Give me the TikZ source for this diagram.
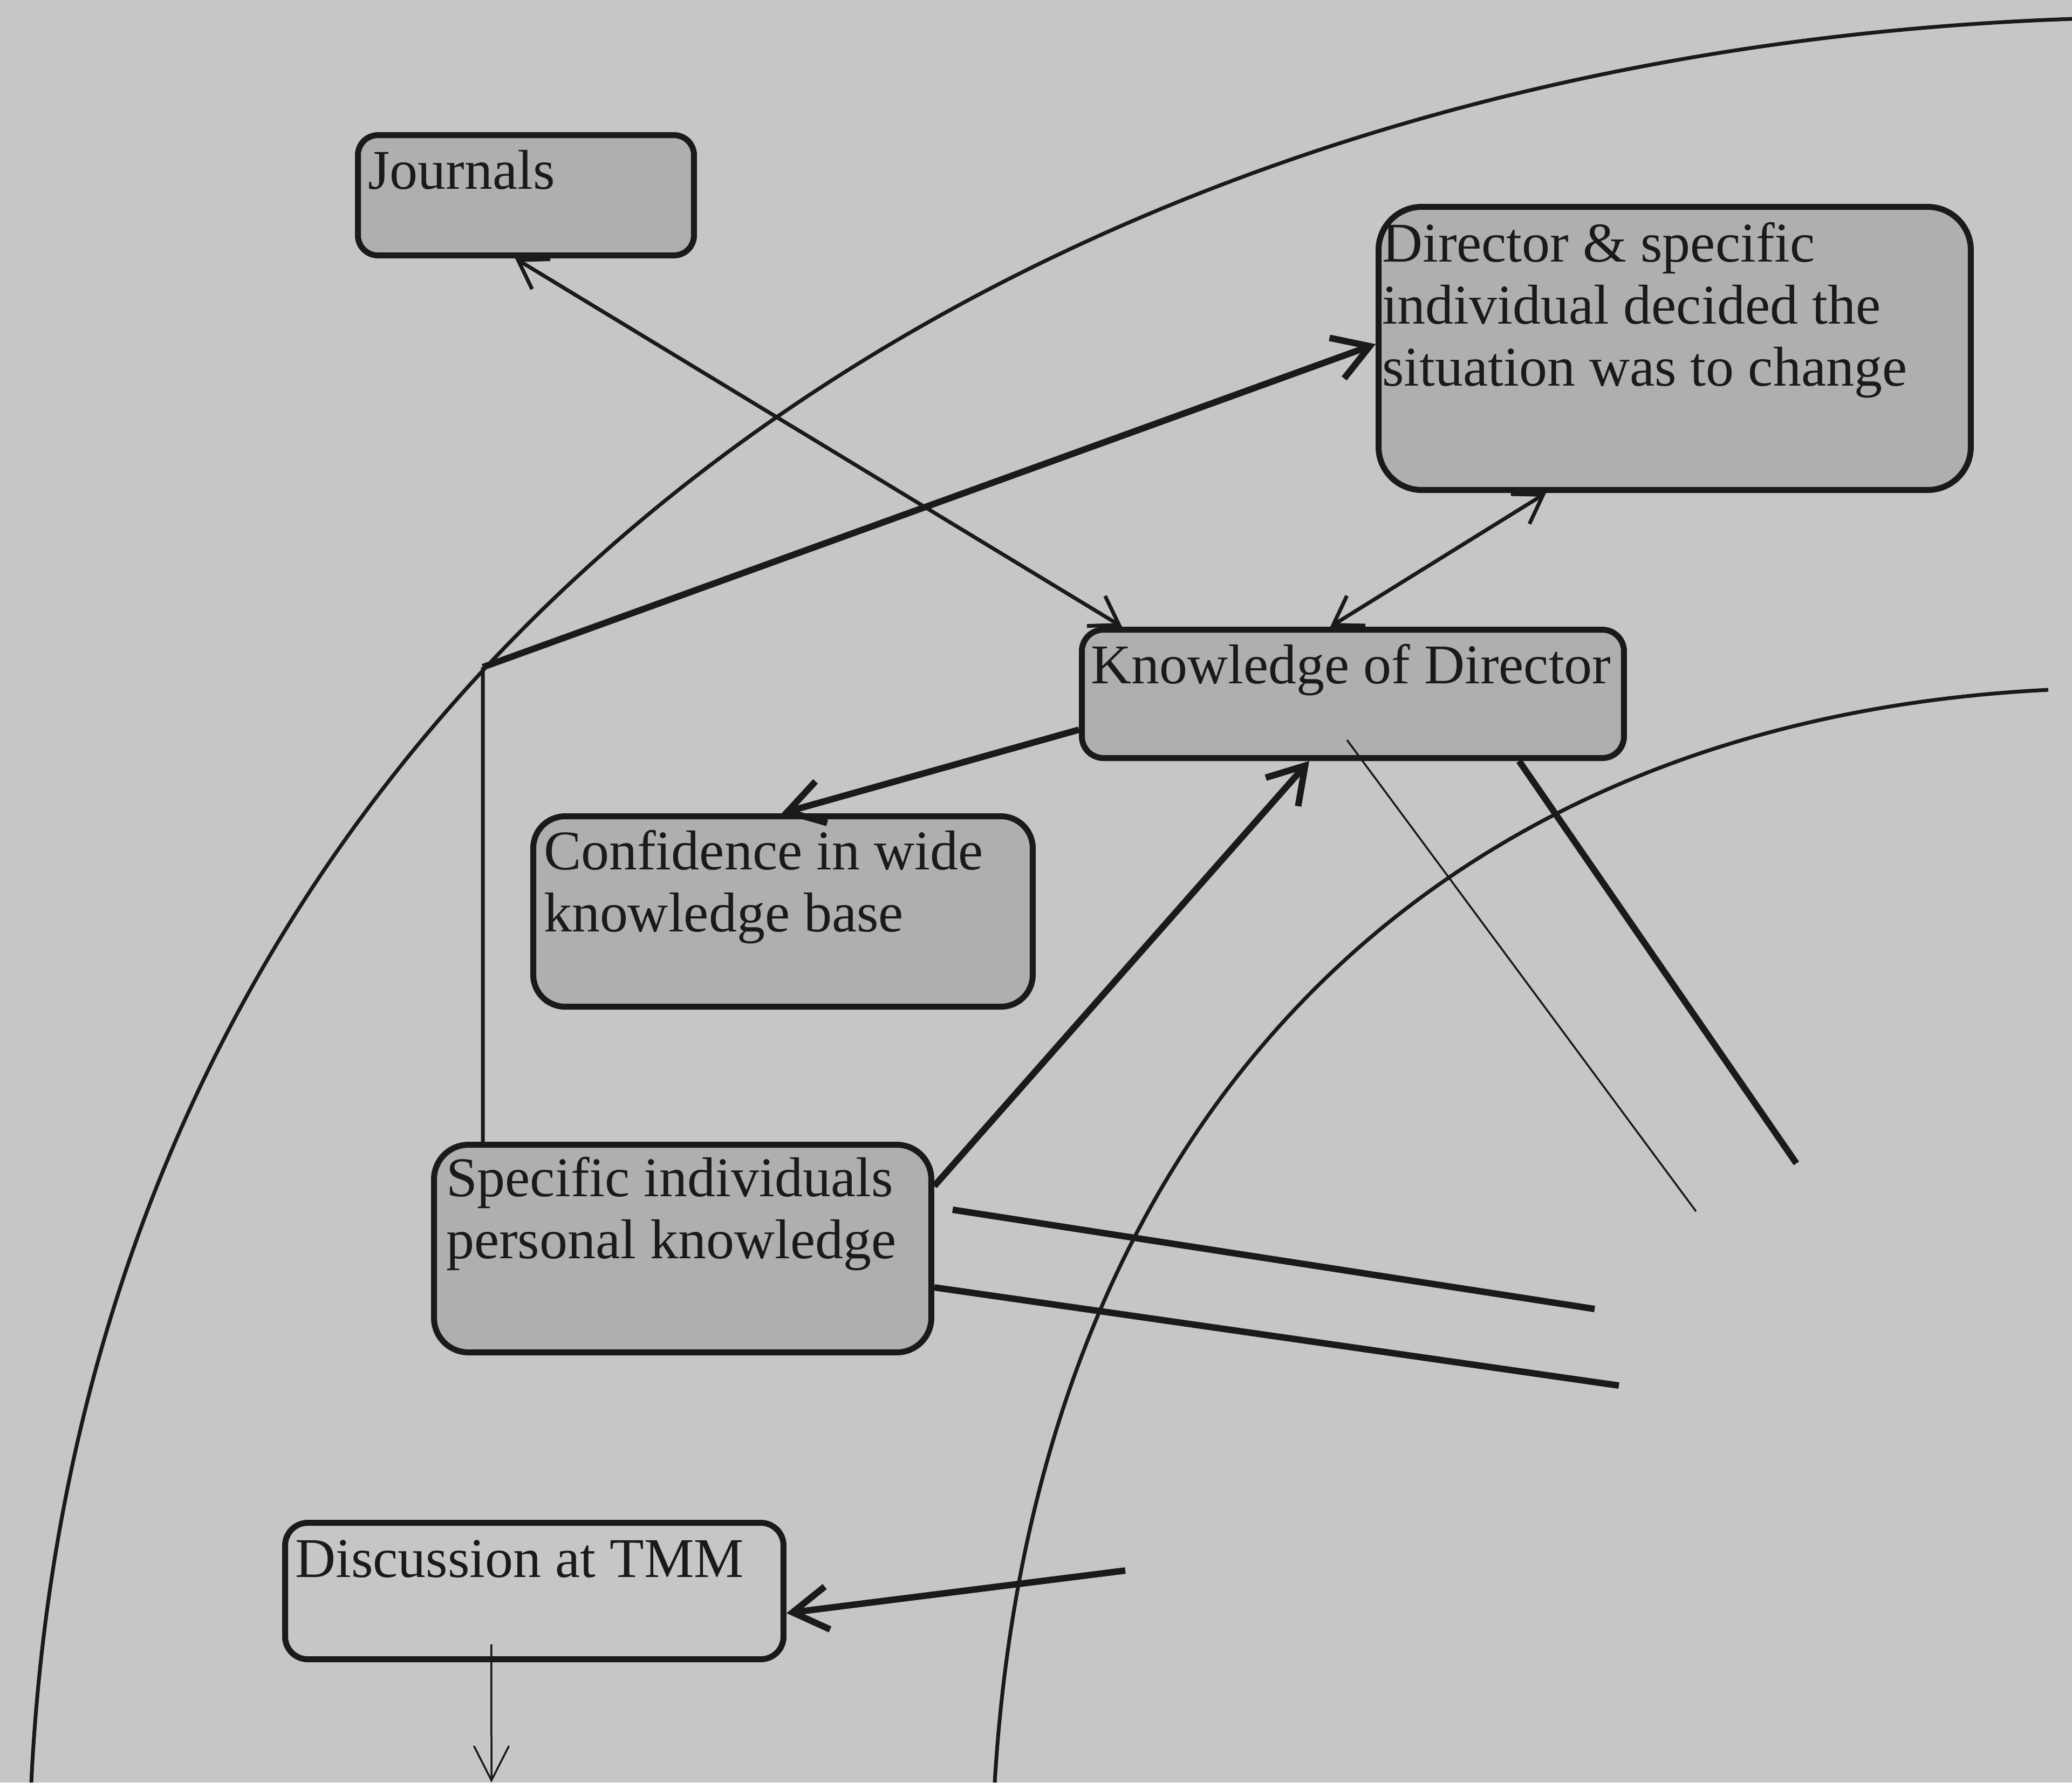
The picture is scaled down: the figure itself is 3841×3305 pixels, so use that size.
\documentclass[tikz,border=0pt]{standalone}
\usepackage{fontspec}
\setmainfont{Liberation Serif}
\usetikzlibrary{arrows.meta,calc}
\definecolor{paper}{RGB}{198,198,198}
\definecolor{ink}{RGB}{26,26,26}
\definecolor{boxfill}{RGB}{175,175,175}
\begin{document}
\begin{tikzpicture}[x=0.1pt,y=-0.1pt,
  box/.style={draw=ink,line width=1.1pt,fill=boxfill,inner sep=0pt,anchor=north west},
  lbl/.style={font=\fontsize{10.4}{11.5}\selectfont,text=ink,anchor=base west,inner sep=0pt,align=left},
  heavy/.style={draw=ink,line width=1.2pt},
  medium/.style={draw=ink,line width=0.7pt},
  fine/.style={draw=ink,line width=0.35pt},
  bigtip/.style={-{Straight Barb[length=6.5pt,width=8pt]}},
  twotips/.style={{Straight Barb[length=5pt,width=6.5pt]}-{Straight Barb[length=5pt,width=6.5pt]}},
  finetip/.style={-{Straight Barb[length=6.4pt,width=6.5pt]}}]

% page
\fill[paper] (0,0) rectangle (3841,3305);
\useasboundingbox (0,0) rectangle (3841,3305);

% boundary arcs
\draw[medium] (58,3305) .. controls (160,1229) and (1864,104) .. (3841,35);
\draw[medium] (3797,1279) .. controls (2640,1337) and (1917,2087) .. (1844,3305);

% boxes
\node[box,minimum width=62.3pt,minimum height=22.3pt,rounded corners=3.7pt] (jour) at (658,245) {};
\node[box,minimum width=109.8pt,minimum height=52.5pt,rounded corners=8pt] (dir) at (2550,378) {};
\node[box,minimum width=100.5pt,minimum height=23.8pt,rounded corners=4pt] (know) at (2000,1162) {};
\node[box,minimum width=92.6pt,minimum height=35.3pt,rounded corners=5.9pt] (conf) at (983,1508) {};
\node[box,minimum width=92.2pt,minimum height=38.5pt,rounded corners=6.4pt] (spec) at (799,2117) {};
\node[box,fill=none,minimum width=92.4pt,minimum height=25.3pt,rounded corners=4.2pt] (disc) at (523,2818) {};

% box texts (multi-line nodes are placed by the baseline of their last line)
\node[lbl] (tjour) at (680,350) {Journals};
\node[lbl] (tdir) at (2560,715) {Director \& specific\\individual decided the\\situation was to change};
\node[lbl] (tknow) at (2020,1267) {Knowledge of Director};
\node[lbl] (tconf) at (1006,1727) {Confidence in wide\\knowledge base};
\node[lbl] (tspec) at (825,2333) {Specific individuals\\personal knowledge};
\node[lbl] (tdisc) at (545,2924) {Discussion at TMM};

% free ends
\coordinate (jn) at (895,1237);
\coordinate (e1) at (3144,2246);
\coordinate (e2) at (3330,2157);
\coordinate (e3) at (2956,2427);
\coordinate (e4) at (3001,2569);
\coordinate (e5) at (2086,2912);
\coordinate (e6) at (911,3305);

% connectors
\draw[medium,twotips] ([xshift=29.7pt]jour.south west) -- ([xshift=8pt]know.north west);
\draw[medium] ([xshift=9.6pt]spec.north west) -- (jn);
\draw[heavy,bigtip] (jn) -- ([yshift=-26pt]dir.north west);
\draw[medium,twotips] ([xshift=46.6pt]know.north west) -- ([xshift=31.6pt]dir.south west);
\draw[heavy,bigtip] ([yshift=5.8pt]know.south west) -- ([xshift=46.6pt]conf.north west);
\draw[heavy,bigtip] ([yshift=-8.2pt]spec.north east) -- ([xshift=42.7pt]know.south west);
\draw[fine] ([xshift=49.7pt,yshift=3.9pt]know.south west) -- (e1);
\draw[heavy] ([xshift=81.6pt]know.south west) -- (e2);
\draw[heavy] ([xshift=3.4pt,yshift=-12.6pt]spec.north east) -- (e3);
\draw[heavy] ([yshift=-27pt]spec.north east) -- (e4);
\draw[heavy,bigtip] (e5) -- ([yshift=-17.3pt]disc.north east);
\draw[fine,finetip] ([xshift=38.8pt,yshift=3.3pt]disc.south west) -- (e6);
\end{tikzpicture}
\end{document}
